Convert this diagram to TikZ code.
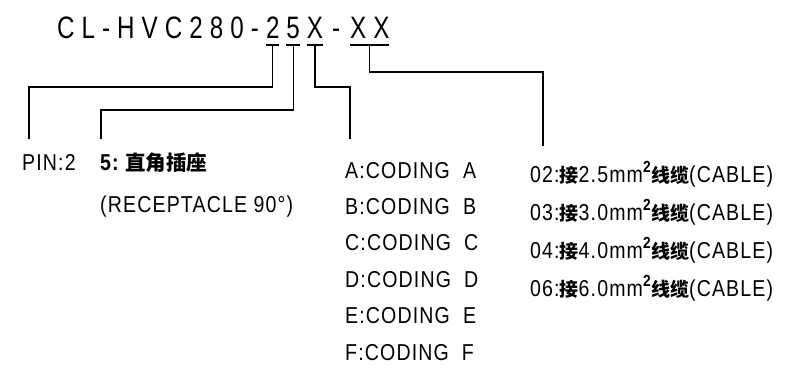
\documentclass[tikz,border=0pt]{standalone}
\usepackage{fontspec}
\setmainfont{Liberation Sans}[FakeStretch=0.85]
\newfontfamily\titlefont{Liberation Sans}[FakeStretch=0.78,LetterSpace=22.8]
\newfontfamily\lblfont{Liberation Sans}[FakeStretch=0.85,LetterSpace=5]
\newfontfamily\cjk{Noto Sans CJK SC}
\usetikzlibrary{calc}
\usetikzlibrary{positioning}

\begin{document}
\begin{tikzpicture}[x=1pt, y=-1pt,
  ttl/.style={inner sep=0pt, outer sep=0pt, text height=22pt, text depth=7pt,
    font=\titlefont\fontsize{31}{34}\selectfont},
  lbl/.style={anchor=base west, inner sep=0pt, font=\lblfont\fontsize{23}{27}\selectfont},
  lead/.style={black, line width=1.3pt},
  uline/.style={black, line width=1.8pt}]
\useasboundingbox (0,0) rectangle (795,383);

\node[ttl, anchor=base west] (t0) at (57,38) {CL-HVC280-};
\node[ttl, right=7pt of t0] (d2) {2};
\node[ttl, right=7pt of d2] (d5) {5};
\node[ttl, right=7pt of d5] (dx) {X};
\node[ttl, right=9pt of dx] (t1) {-};
\node[ttl, right=10pt of t1] (dxx) {XX};

\foreach \n in {d2, d5, dx, dxx}
  \draw[uline] (\n.south west) -- (\n.south east);

\node[lbl] (pin) at (22,170) {PIN:2};
\node[lbl] (rec) at (100,170) {\bfseries 5:\ {\cjk\bfseries\fontsize{20.5}{24}\selectfont 直角插座}};
\node[lbl] (rec2) at (100,212) {(RECEPTACLE 90°)};

\foreach \c [count=\i from 0] in {A,B,C,D,E,F}
  \node[lbl] (cod\c) at (345,{178+36.4*\i}) {\c:CODING\ \ \c};

\foreach \s/\w [count=\i from 0] in {02/2.5, 03/3.0, 04/4.0, 06/6.0}
  \node[lbl] (cab\s) at (530,{182+38*\i}) {\s:{\cjk\bfseries\fontsize{19}{23}\selectfont 接}\w mm\textsuperscript{\bfseries 2}{\cjk\bfseries\fontsize{19}{23}\selectfont 线缆}(CABLE)};

\coordinate (pinTop) at (29,139);
\coordinate (recTop) at (101,139);
\coordinate (codTop) at (350,139);
\coordinate (cabTop) at (543,146);

\draw[lead] (d2.south) -- ++(0,42) -| (pinTop);
\draw[lead] (d5.south) -- ++(0,65) -| (recTop);
\draw[lead] (dx.south) -- ++(0,42) -| (codTop);
\draw[lead] (dxx.south) -- ++(0,27) -| (cabTop);
\end{tikzpicture}
\end{document}
